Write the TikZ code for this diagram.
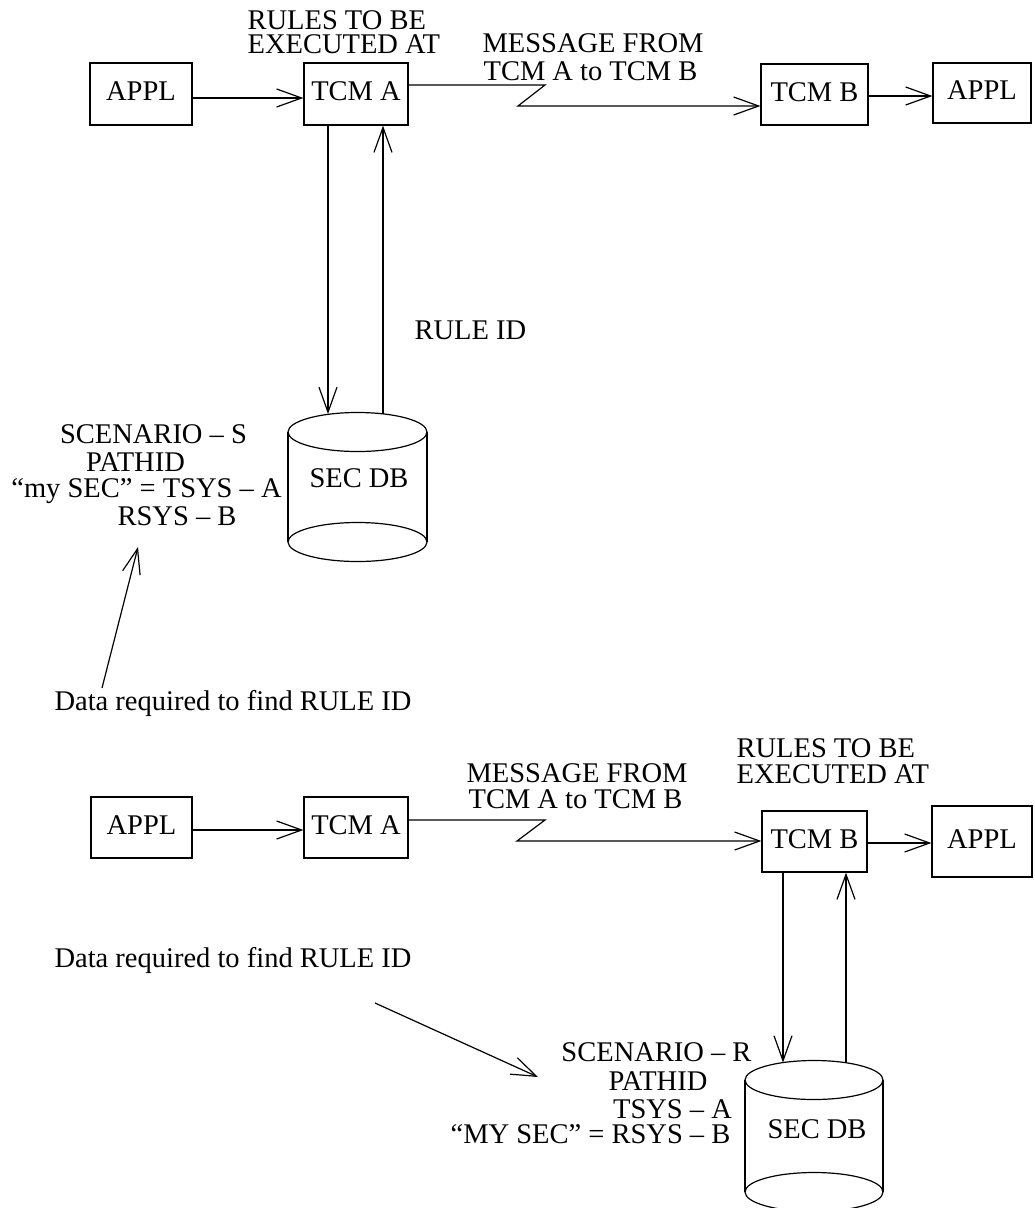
\documentclass[tikz,border=0pt]{standalone}
\usepackage{fontspec}
\setmainfont{Liberation Serif}
\usetikzlibrary{arrows.meta,calc}
\begin{document}
\begin{tikzpicture}[x=1pt,y=-1pt,line width=1.2pt,
  >={Straight Barb[length=25pt,width=18pt]},
  box/.style={draw,inner sep=0pt,text height=19pt,text depth=6pt},
  lbl/.style={inner sep=0pt,anchor=base},
  lblw/.style={inner sep=0pt,anchor=base west},
  font=\fontsize{28.5}{30}\selectfont]
\useasboundingbox (0,0) rectangle (1034,1208);

% ---------- top part ----------
\node[box,minimum width=102pt,minimum height=62pt] (applA) at (141,94) {APPL};
\node[box,minimum width=104pt,minimum height=62pt] (tcmA) at (356,94) {TCM A};
\node[box,minimum width=107pt,minimum height=61pt] (tcmB) at (814.5,94.5) {TCM B};
\node[box,minimum width=98pt,minimum height=60pt] (applB) at (982,93) {APPL};

\node[lblw] (rulesA1) at (247,29) {RULES TO BE};
\node[lblw] (rulesA2) at (247,53) {EXECUTED AT};
\node[lblw] (msgA1) at (482,52) {MESSAGE FROM};
\node[lblw] (msgA2) at (483,80) {TCM A to TCM B};

\draw[->] ($(applA.east)+(0,4)$) -- ($(tcmA.west)+(0,4)$);
\coordinate (zA1) at (545,85);
\coordinate (zA2) at (518,106);
\draw[->] ($(tcmA.east)+(0,-9)$) -- (zA1) -- (zA2) -- (tcmB.west |- zA2);
\draw[->] ($(tcmB.east)+(0,1.5)$) -- ($(applB.west)+(0,3)$);

% database 1
\draw (288,432) -- (288,542) (427,432) -- (427,542);
\draw (357.5,432) ellipse [x radius=69.5pt,y radius=19.5pt];
\draw (357.5,542) ellipse [x radius=69.5pt,y radius=19.5pt];
\node[lbl] (db1) at (359,487) {SEC DB};
\coordinate (db1in) at (328,414);
\coordinate (db1out) at (383,414);
\draw[->] (tcmA.south -| db1in) -- (db1in);
\draw[->] (db1out) -- (tcmA.south -| db1out);
\node[lblw] (ruleid) at (414,339) {RULE ID};

\node[lbl] (scS1) at (153.5,443) {SCENARIO – S};
\node[lbl] (scS2) at (135.5,471) {PATHID};
\node[lbl] (scS3) at (146.5,497) {“my SEC” = TSYS – A};
\node[lbl] (scS4) at (177,525) {RSYS – B};

\node[lbl] (data1) at (233,710) {Data required to find RULE ID};
\coordinate (d1s) at (102,688);
\coordinate (d1e) at (138,547);
\draw[->] (d1s) -- (d1e);

% ---------- bottom part ----------
\node[box,minimum width=101pt,minimum height=61pt] (applC) at (141.5,827.5) {APPL};
\node[box,minimum width=104pt,minimum height=61pt] (tcmC) at (356,827.5) {TCM A};
\node[box,minimum width=105pt,minimum height=61pt] (tcmD) at (814.5,841.5) {TCM B};
\node[box,minimum width=100pt,minimum height=71pt] (applD) at (982,841.5) {APPL};

\node[lblw] (msgC1) at (466,782) {MESSAGE FROM};
\node[lblw] (msgC2) at (468,808) {TCM A to TCM B};
\node[lblw] (rulesD1) at (736,757) {RULES TO BE};
\node[lblw] (rulesD2) at (736,783) {EXECUTED AT};

\draw[->] ($(applC.east)+(0,2.5)$) -- ($(tcmC.west)+(0,2.5)$);
\coordinate (zC1) at (545,820);
\coordinate (zC2) at (517,841);
\draw[->] ($(tcmC.east)+(0,-7.5)$) -- (zC1) -- (zC2) -- (tcmD.west |- zC2);
\draw[->] ($(tcmD.east)+(0,1.5)$) -- ($(applD.west)+(0,1.5)$);

% database 2
\draw (745,1080) -- (745,1192) (883,1080) -- (883,1192);
\draw (814,1080) ellipse [x radius=69pt,y radius=19.5pt];
\draw (814,1192) ellipse [x radius=69pt,y radius=19.5pt];
\node[lbl] (db2) at (817,1138) {SEC DB};
\coordinate (db2in) at (783,1062.5);
\coordinate (db2out) at (846,1062.5);
\draw[->] (tcmD.south -| db2in) -- (db2in);
\draw[->] (db2out) -- (tcmD.south -| db2out);

\node[lbl] (scR1) at (656.5,1061) {SCENARIO – R};
\node[lbl] (scR2) at (658,1090) {PATHID};
\node[lbl] (scR3) at (672.5,1118) {TSYS – A};
\node[lbl] (scR4) at (590.5,1143) {“MY SEC” = RSYS – B};

\node[lbl] (data2) at (233,967) {Data required to find RULE ID};
\coordinate (d2s) at (375,1003);
\coordinate (d2e) at (538,1077);
\draw[->] (d2s) -- (d2e);
\end{tikzpicture}
\end{document}
